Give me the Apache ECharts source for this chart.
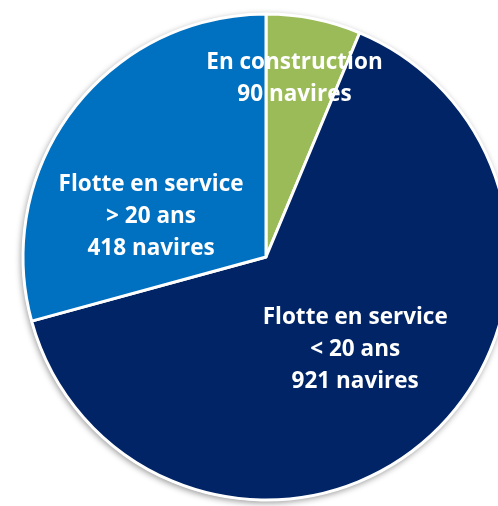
<!DOCTYPE html>
<html>
<head>
<meta charset="utf-8">
<script src="https://cdn.jsdelivr.net/npm/echarts@6/dist/echarts.min.js"></script>
<style>
html,body{margin:0;padding:0;background:#fff;}
#chart{width:498px;height:506px;}
</style>
</head>
<body>
<div id="chart"></div>
<script>
const categories = ["En construction", "Flotte en service\n< 20 ans", "Flotte en service\n> 20 ans"];
const values = [90, 921, 418];
const unitLabel = "navires";
const colors = ["#9BBB59", "#002465", "#0070C0"];

const labelOffsets = [[4, -56], [7, -1], [-16, 35]];

const total = values.reduce((a, b) => a + b, 0);
const chart = echarts.init(document.getElementById('chart'));
const font = "'Open Sans', Lato, sans-serif";

chart.setOption({
  animation: false,
  series: [
    {
      type: 'pie',
      silent: true,
      center: [266, 257],
      radius: 244,
      startAngle: 90,
      label: { show: false },
      itemStyle: {
        color: '#ffffff',
        shadowBlur: 6,
        shadowColor: 'rgba(0,0,0,0.4)',
        shadowOffsetX: -1,
        shadowOffsetY: 2
      },
      data: [{ value: total, name: 'total' }],
      z: 1
    },
    {
      type: 'pie',
      center: [266, 257],
      radius: 243,
      startAngle: 90,
      clockwise: true,
      avoidLabelOverlap: false,
      itemStyle: { borderColor: '#ffffff', borderWidth: 3 },
      label: {
        show: true,
        position: 'inside',
        color: '#ffffff',
        fontFamily: font,
        fontWeight: 'bold',
        fontSize: 22.5,
        lineHeight: 32,
        align: 'center',
        formatter: p => p.name + "\n" + p.value + " " + unitLabel
      },
      labelLine: { show: false },
      data: categories.map((c, i) => ({
        name: c,
        value: values[i],
        itemStyle: { color: colors[i] },
        label: { offset: labelOffsets[i] }
      })),
      z: 2
    }
  ]
});
</script>
</body>
</html>
